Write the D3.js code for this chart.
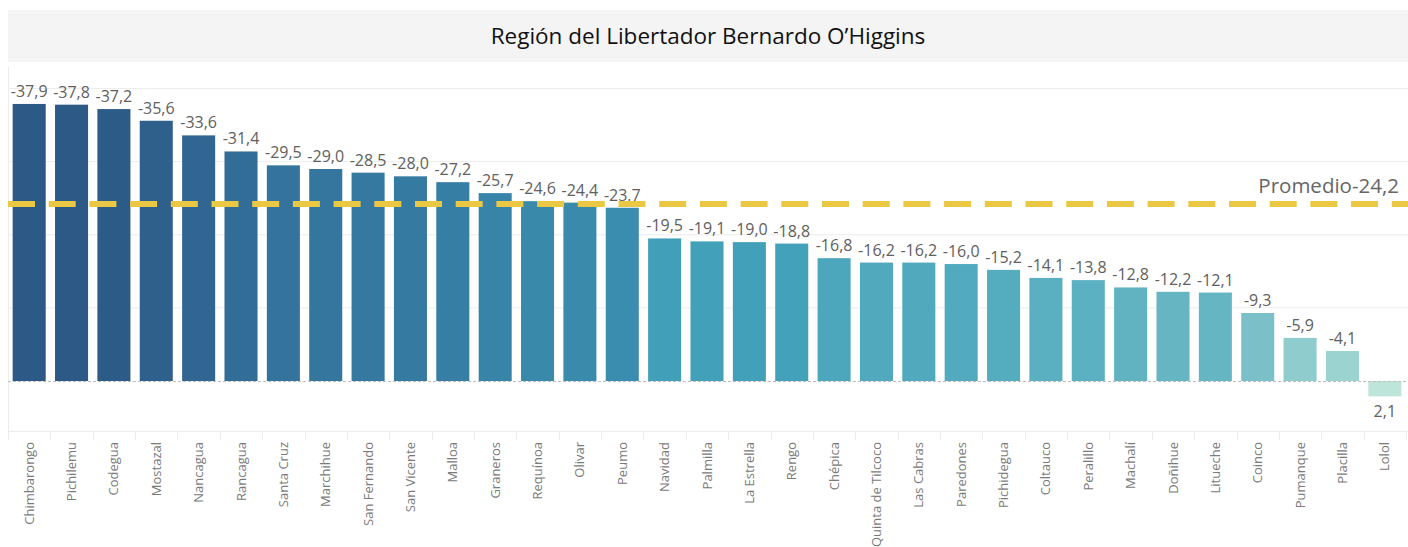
<!DOCTYPE html>
<head>
<meta charset="utf-8">
<title>Región del Libertador Bernardo O'Higgins</title>
<script src="https://d3js.org/d3.v7.min.js"></script>
<style>
body { margin: 0; background: #fff; }
text { font-family: "Open Sans", "Noto Sans", sans-serif; }
</style>
</head>
<body>
<script>
// data
var comunas = ["Chimbarongo","Pichilemu","Codegua","Mostazal","Nancagua","Rancagua","Santa Cruz",
  "Marchihue","San Fernando","San Vicente","Malloa","Graneros","Requínoa","Olivar","Peumo",
  "Navidad","Palmilla","La Estrella","Rengo","Chépica","Quinta de Tilcoco","Las Cabras",
  "Paredones","Pichidegua","Coltauco","Peralillo","Machalí","Doñihue","Litueche","Coinco",
  "Pumanque","Placilla","Lolol"];
var valores = [-37.9,-37.8,-37.2,-35.6,-33.6,-31.4,-29.5,-29.0,-28.5,-28.0,-27.2,-25.7,-24.6,
  -24.4,-23.7,-19.5,-19.1,-19.0,-18.8,-16.8,-16.2,-16.2,-16.0,-15.2,-14.1,-13.8,-12.8,-12.2,
  -12.1,-9.3,-5.9,-4.1,2.1];
var promedio = -24.2;
var gridTicks = [0,-10,-20,-30,-40];
var titulo = "Región del Libertador Bernardo O\u2019Higgins";

var width = 1408, height = 547;
var left = 8, right = 1406, axisY = 431;

var svg = d3.select("body").append("svg")
  .attr("width", width)
  .attr("height", height);

var fmt = function(v) { return d3.format(".1f")(v).replace(".", ",").replace("\u2212", "-"); };

// title band
svg.append("rect").attr("x", 8).attr("y", 10).attr("width", 1400).attr("height", 52)
  .attr("fill", "#f4f4f4");
svg.append("text").attr("x", 708).attr("y", 44).attr("text-anchor", "middle")
  .attr("font-size", 22.5).attr("fill", "#111").text(titulo);

var x = d3.scaleBand().domain(comunas).range([left, right])
  .paddingInner(0.22).paddingOuter(0.11);
var y = d3.scaleLinear().domain([-40, 0]).range([88.6, 381]);

var color = d3.scaleLinear()
  .domain([-37.9, -30, -24, -19, -13, -9.3, -4.1, 2.1])
  .range(["#2c5985","#33719b","#3a8cad","#42a1b9","#5fb2c2","#7bbfc8","#9ad3cf","#bde5da"]);

// gridlines
svg.selectAll("line.grid").data(gridTicks.filter(function(d){return d!==0;})).enter()
  .append("line").attr("class", "grid")
  .attr("x1", left).attr("x2", width)
  .attr("y1", function(d){return y(d);}).attr("y2", function(d){return y(d);})
  .attr("stroke", "#ececec").attr("stroke-width", 1);

// left border
svg.append("line").attr("x1", 8.5).attr("x2", 8.5).attr("y1", 67).attr("y2", 440)
  .attr("stroke", "#ececec");

// bars
svg.selectAll("rect.bar").data(valores).enter().append("rect").attr("class", "bar")
  .attr("x", function(d,i){return x(comunas[i]);})
  .attr("width", x.bandwidth())
  .attr("y", function(d){return Math.min(y(d), y(0));})
  .attr("height", function(d){return Math.abs(y(d) - y(0));})
  .attr("fill", function(d){return color(d);});

// zero line
svg.append("line").attr("x1", left).attr("x2", width)
  .attr("y1", y(0) + 0.5).attr("y2", y(0) + 0.5)
  .attr("stroke", "#bdbdbd").attr("stroke-dasharray", "3,2");

// value labels
svg.selectAll("text.val").data(valores).enter().append("text").attr("class", "val")
  .attr("x", function(d,i){return x(comunas[i]) + x.bandwidth()/2;})
  .attr("y", function(d){return d < 0 ? y(d) - 7 : y(d) + 21;})
  .attr("text-anchor", "middle").attr("font-size", 16).attr("fill", "#606060")
  .text(function(d){return fmt(d);});

// average line
svg.append("line").attr("x1", left).attr("x2", width)
  .attr("y1", y(promedio)).attr("y2", y(promedio))
  .attr("stroke", "#ebc844").attr("stroke-width", 6).attr("stroke-dasharray", "27,13.7");
svg.append("text").attr("x", 1399).attr("y", y(promedio) - 11).attr("text-anchor", "end")
  .attr("font-size", 20.5).attr("fill", "#666").text("Promedio" + fmt(promedio));

// x axis
svg.append("line").attr("x1", left).attr("x2", width).attr("y1", axisY + 0.5).attr("y2", axisY + 0.5)
  .attr("stroke", "#ececec");
var seps = comunas.map(function(c){return x(c) - x.step()*x.paddingInner()/2;}).concat([right]);
svg.selectAll("line.sep").data(seps).enter().append("line").attr("class", "sep")
  .attr("x1", function(d){return Math.round(d)+0.5;}).attr("x2", function(d){return Math.round(d)+0.5;})
  .attr("y1", axisY).attr("y2", 440).attr("stroke", "#ececec");

svg.selectAll("text.cat").data(comunas).enter().append("text").attr("class", "cat")
  .attr("transform", function(d){return "translate(" + (x(d) + x.bandwidth()/2 + 4.5) + "," + 442 + ") rotate(-90)";})
  .attr("text-anchor", "end").attr("font-size", 13).attr("fill", "#7a7a7a")
  .text(function(d){return d;});
</script>
</body>
